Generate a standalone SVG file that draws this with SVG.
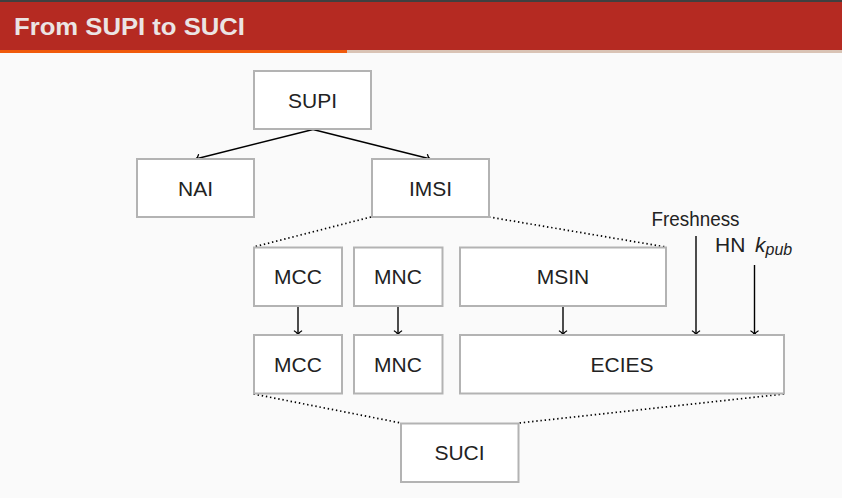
<svg xmlns="http://www.w3.org/2000/svg" width="842" height="498" viewBox="0 0 842 498">
<defs>
<style>
.box{fill:#ffffff;stroke:#b3b3b3;stroke-width:2}
.lbl{font-family:"Liberation Sans",Arial,sans-serif;font-size:21px;fill:#222222;text-anchor:middle}
.free{font-family:"Liberation Sans",Arial,sans-serif;font-size:21px;fill:#222222}
.arr{stroke:#000;stroke-width:1.4;fill:none;marker-end:url(#to)}
.dot{stroke:#000;stroke-width:1.7;fill:none;stroke-dasharray:1.4 2.8}
</style>
<marker id="to" markerUnits="userSpaceOnUse" markerWidth="12" markerHeight="12" viewBox="-6 -6 12 12" refX="0" refY="0" orient="auto">
<path d="M -4,-3.6 C -3,-1.4 -1.3,-0.4 0,0 C -1.3,0.4 -3,1.4 -4,3.6" fill="none" stroke="#000" stroke-width="1.3" stroke-linecap="round"/>
</marker>
</defs>
<rect x="0" y="0" width="842" height="498" fill="#fafafa"/>
<rect x="0" y="0" width="842" height="2" fill="#404040"/>
<rect x="0" y="2" width="842" height="48" fill="#b52a22"/>
<rect x="0" y="50" width="347" height="3" fill="#f05a0c"/>
<rect x="347" y="50" width="495" height="3" fill="#d9c3b5"/>
<text x="14" y="35" font-family="'Liberation Sans',Arial,sans-serif" font-size="24" font-weight="bold" fill="#ebe4e4" textLength="231" lengthAdjust="spacingAndGlyphs">From SUPI to SUCI</text>

<g id="connectors">
<line class="arr" x1="313" y1="129.5" x2="195.5" y2="159"/>
<line class="arr" x1="313" y1="129.5" x2="430.5" y2="159"/>
<line class="dot" x1="371" y1="217" x2="253.5" y2="247"/>
<line class="dot" x1="489" y1="217" x2="666" y2="247"/>
<line class="arr" x1="298" y1="306" x2="298" y2="335"/>
<line class="arr" x1="398" y1="306" x2="398" y2="335"/>
<line class="arr" x1="563" y1="306" x2="563" y2="335"/>
<line class="arr" x1="696" y1="236" x2="696" y2="335"/>
<line class="arr" x1="754.5" y1="265" x2="754.5" y2="335"/>
<line class="dot" x1="253.5" y1="394" x2="401" y2="423"/>
<line class="dot" x1="784" y1="394" x2="519" y2="423"/>
</g>

<g id="SUPI"><rect class="box" x="254" y="71" width="117" height="58"/><text class="lbl" x="312.5" y="107.5">SUPI</text></g>
<g id="NAI"><rect class="box" x="137" y="159" width="117" height="58"/><text class="lbl" x="195.5" y="195.5">NAI</text></g>
<g id="IMSI"><rect class="box" x="372" y="159" width="117" height="58"/><text class="lbl" x="430.5" y="195.5">IMSI</text></g>
<g id="MCC1"><rect class="box" x="254" y="247.5" width="88" height="58.5"/><text class="lbl" x="298" y="284">MCC</text></g>
<g id="MNC1"><rect class="box" x="354" y="247.5" width="88.5" height="58.5"/><text class="lbl" x="398" y="284">MNC</text></g>
<g id="MSIN"><rect class="box" x="460" y="247.5" width="206" height="58.5"/><text class="lbl" x="563" y="284">MSIN</text></g>
<g id="MCC2"><rect class="box" x="254" y="335" width="88" height="58.5"/><text class="lbl" x="298" y="372">MCC</text></g>
<g id="MNC2"><rect class="box" x="354" y="335" width="88.5" height="58.5"/><text class="lbl" x="398" y="372">MNC</text></g>
<g id="ECIES"><rect class="box" x="460" y="335" width="324" height="58.5"/><text class="lbl" x="622" y="372">ECIES</text></g>
<g id="SUCI"><rect class="box" x="401" y="423.5" width="117.5" height="58.5"/><text class="lbl" x="459.5" y="460">SUCI</text></g>
<g id="Freshness"><text class="free" x="651.5" y="226" textLength="88" lengthAdjust="spacingAndGlyphs">Freshness</text></g>
<g id="HNkpub"><text class="free" x="715" y="252">HN <tspan font-style="italic" x="755">k</tspan><tspan font-style="italic" font-size="16" dy="3">pub</tspan></text></g>
</svg>
